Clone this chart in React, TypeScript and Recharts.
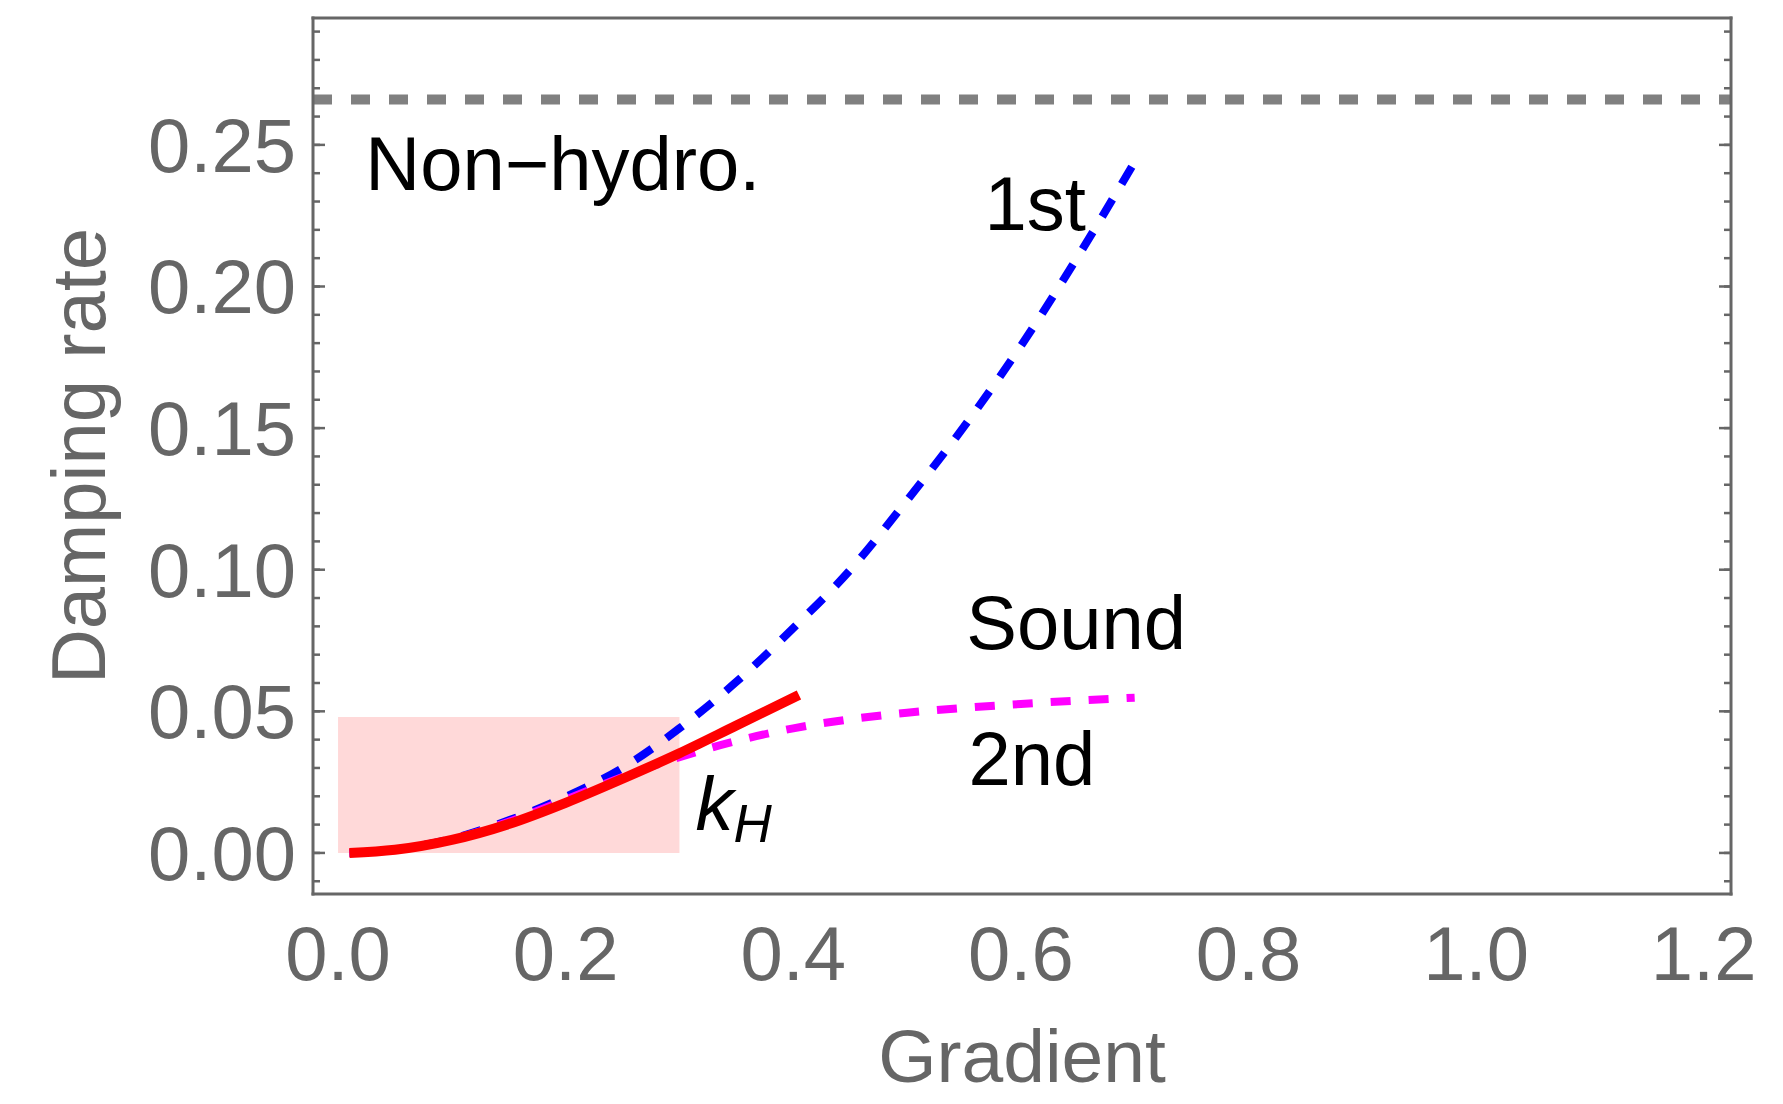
import React from "react";
import {
  ComposedChart,
  Line,
  XAxis,
  YAxis,
  ReferenceArea,
  ReferenceLine,
  Scatter,
  Label,
} from "recharts";

// Damping rate vs gradient
const FIRST_X = [0.01, 0.05, 0.1, 0.15, 0.2, 0.25, 0.3, 0.35, 0.4, 0.45, 0.5, 0.55, 0.6, 0.65, 0.7];
const FIRST_Y = [0.0, 0.0012, 0.005, 0.0115, 0.0198, 0.03, 0.044, 0.0604, 0.0794, 0.0999, 0.1245, 0.1505, 0.179, 0.2105, 0.244];

const SECOND_X = [0.01, 0.05, 0.1, 0.15, 0.2, 0.25, 0.3, 0.35, 0.4, 0.45, 0.5, 0.55, 0.6, 0.65, 0.7];
const SECOND_Y = [0.0, 0.0012, 0.0048, 0.011, 0.0188, 0.0268, 0.0338, 0.0395, 0.044, 0.0472, 0.0495, 0.0512, 0.0526, 0.0538, 0.0548];

const HYDRO_X = [0.01, 0.05, 0.1, 0.15, 0.2, 0.25, 0.3, 0.35, 0.405];
const HYDRO_Y = [0.0, 0.0011, 0.0046, 0.0102, 0.0177, 0.0262, 0.0352, 0.045, 0.0558];

const NON_HYDRO_LEVEL = 0.266;
const KH_BOX = { x1: 0, x2: 0.3, y1: 0, y2: 0.048 };

const NOTES = [
  { text: "Non\u2212hydro.", x: 0.024, y: 0.234 },
  { text: "1st", x: 0.568, y: 0.22 },
  { text: "Sound", x: 0.552, y: 0.072 },
  { text: "2nd", x: 0.554, y: 0.024 },
  { text: "kH", x: 0.314, y: 0.0081 },
];

const X_MAJOR = [0, 0.2, 0.4, 0.6, 0.8, 1.0, 1.2];
const X_MINOR = [
  0, 0.05, 0.1, 0.15, 0.2, 0.25, 0.3, 0.35, 0.4, 0.45, 0.5, 0.55, 0.6,
  0.65, 0.7, 0.75, 0.8, 0.85, 0.9, 0.95, 1.0, 1.05, 1.1, 1.15, 1.2,
];
const Y_MAJOR = [0, 0.05, 0.1, 0.15, 0.2, 0.25];
const Y_MINOR = [
  -0.01, 0, 0.01, 0.02, 0.03, 0.04, 0.05, 0.06, 0.07, 0.08, 0.09, 0.1,
  0.11, 0.12, 0.13, 0.14, 0.15, 0.16, 0.17, 0.18, 0.19, 0.2, 0.21, 0.22,
  0.23, 0.24, 0.25, 0.26, 0.27, 0.28, 0.29,
];

const X_DOMAIN: [number, number] = [-0.022, 1.224];
const Y_DOMAIN: [number, number] = [-0.0145, 0.2948];

const toPoints = (xs: number[], ys: number[]) => xs.map((x, i) => ({ x, y: ys[i] }));

const FONT = "'Liberation Sans', Arial, Helvetica, sans-serif";
const GRAY = "#666666";
const FRAME = { stroke: GRAY, strokeWidth: 3, strokeLinecap: "square" as const };
const TICK = { stroke: GRAY, strokeWidth: 2.5 };

// tick marks only, no text
const NoLabel = () => <g />;

const renderNote = (p: any) => {
  const note = p.payload;
  if (note.text === "kH") {
    return (
      <text x={p.cx} y={p.cy} fontFamily={FONT} fontSize={76} fontStyle="italic" fill="#000">
        k
        <tspan fontSize={53} dy={12}>H</tspan>
      </text>
    );
  }
  return (
    <text x={p.cx} y={p.cy} fontFamily={FONT} fontSize={76} fill="#000">
      {note.text}
    </text>
  );
};

const GradientTitle = (props: any) => {
  const vb = props.viewBox;
  return (
    <text x={vb.x + vb.width / 2} y={vb.y + 188} textAnchor="middle" fontFamily={FONT} fontSize={75} fill={GRAY}>
      Gradient
    </text>
  );
};

const DampingTitle = (props: any) => {
  const vb = props.viewBox;
  const cx = vb.x + vb.width - 208;
  const cy = vb.y + vb.height / 2;
  return (
    <text
      x={cx}
      y={cy}
      transform={`rotate(-90 ${cx} ${cy})`}
      textAnchor="middle"
      fontFamily={FONT}
      fontSize={76}
      fill={GRAY}
    >
      Damping rate
    </text>
  );
};

export default function App() {
  const first = toPoints(FIRST_X, FIRST_Y);
  const second = toPoints(SECOND_X, SECOND_Y);
  const hydro = toPoints(HYDRO_X, HYDRO_Y);

  const tickAxisX = { type: "number" as const, domain: X_DOMAIN, allowDataOverflow: true, interval: 0 as const, height: 1, mirror: true, tick: NoLabel };
  const tickAxisY = { type: "number" as const, domain: Y_DOMAIN, allowDataOverflow: true, interval: 0 as const, width: 1, mirror: true, tick: NoLabel };

  return (
    <div style={{ width: 1783, height: 1104, background: "#fff" }}>
      <style>{"body{margin:0}"}</style>
      <ComposedChart width={1783} height={1104} margin={{ top: 18, right: 52, bottom: 209, left: 312 }}>
        <XAxis
          xAxisId="main"
          type="number"
          dataKey="x"
          domain={X_DOMAIN}
          allowDataOverflow
          ticks={X_MAJOR}
          interval={0}
          height={1}
          tickLine={false}
          axisLine={false}
          tickSize={0}
          tickMargin={32}
          tick={{ fill: GRAY, fontSize: 76, fontFamily: FONT }}
          tickFormatter={(v: number) => v.toFixed(1)}
        >
          <Label content={GradientTitle} />
        </XAxis>
        <YAxis
          yAxisId="main"
          type="number"
          dataKey="y"
          domain={Y_DOMAIN}
          allowDataOverflow
          ticks={Y_MAJOR}
          interval={0}
          width={1}
          tickLine={false}
          axisLine={false}
          tickSize={0}
          tickMargin={17}
          tick={{ fill: GRAY, fontSize: 76, fontFamily: FONT }}
          tickFormatter={(v: number) => v.toFixed(2)}
        >
          <Label content={DampingTitle} />
        </YAxis>

        {/* frame with inward ticks on all four sides */}
        <XAxis xAxisId="bMaj" orientation="bottom" {...tickAxisX} ticks={X_MAJOR} tickSize={12} tickLine={TICK} axisLine={FRAME} />
        <XAxis xAxisId="bMin" orientation="bottom" {...tickAxisX} ticks={X_MINOR} tickSize={6} tickLine={TICK} axisLine={false} />
        <XAxis xAxisId="tMaj" orientation="top" {...tickAxisX} ticks={X_MAJOR} tickSize={12} tickLine={TICK} axisLine={FRAME} />
        <XAxis xAxisId="tMin" orientation="top" {...tickAxisX} ticks={X_MINOR} tickSize={6} tickLine={TICK} axisLine={false} />
        <YAxis yAxisId="lMaj" orientation="left" {...tickAxisY} ticks={Y_MAJOR} tickSize={12} tickLine={TICK} axisLine={FRAME} />
        <YAxis yAxisId="lMin" orientation="left" {...tickAxisY} ticks={Y_MINOR} tickSize={6} tickLine={TICK} axisLine={false} />
        <YAxis yAxisId="rMaj" orientation="right" {...tickAxisY} ticks={Y_MAJOR} tickSize={12} tickLine={TICK} axisLine={FRAME} />
        <YAxis yAxisId="rMin" orientation="right" {...tickAxisY} ticks={Y_MINOR} tickSize={6} tickLine={TICK} axisLine={false} />

        <ReferenceArea
          xAxisId="main"
          yAxisId="main"
          x1={KH_BOX.x1}
          x2={KH_BOX.x2}
          y1={KH_BOX.y1}
          y2={KH_BOX.y2}
          fill="#FFD9D9"
          fillOpacity={1}
          stroke="none"
        />
        <ReferenceLine
          xAxisId="main"
          yAxisId="main"
          y={NON_HYDRO_LEVEL}
          stroke="#808080"
          strokeWidth={10}
          strokeDasharray="19 19"
        />

        <Line xAxisId="main" yAxisId="main" data={first} dataKey="y" type="monotone" stroke="#0000FF" strokeWidth={8} strokeDasharray="20 18" dot={false} activeDot={false} isAnimationActive={false} />
        <Line xAxisId="main" yAxisId="main" data={second} dataKey="y" type="monotone" stroke="#FF00FF" strokeWidth={8} strokeDasharray="20 18" dot={false} activeDot={false} isAnimationActive={false} />
        <Line xAxisId="main" yAxisId="main" data={hydro} dataKey="y" type="monotone" stroke="#FF0000" strokeWidth={10} dot={false} activeDot={false} isAnimationActive={false} />

        <Scatter xAxisId="main" yAxisId="main" data={NOTES} dataKey="y" shape={renderNote} isAnimationActive={false} />
      </ComposedChart>
    </div>
  );
}
